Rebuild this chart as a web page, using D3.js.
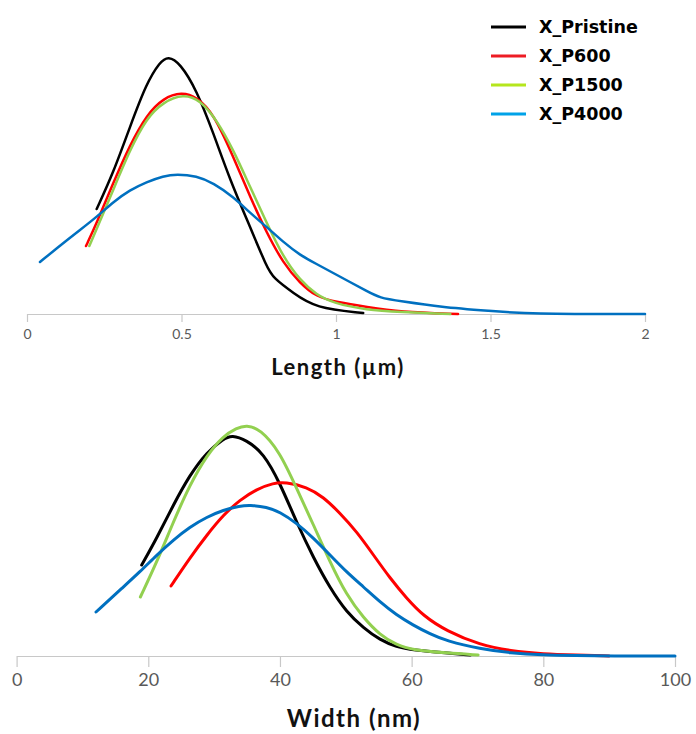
<!DOCTYPE html>
<html><head><meta charset="utf-8">
<script src="https://cdn.jsdelivr.net/npm/d3@7"></script>
<style>body{margin:0;background:#fff}svg{display:block}</style>
</head><body><svg id="c" width="696" height="734"></svg>
<script>
// ---- data ----
const seriesNames = ["X_Pristine","X_P600","X_P1500","X_P4000"];
const lineColors = ["#000000","#ff0000","#92d050","#0070c0"];
const legendColors = ["#000000","#ed1c24","#b5e61d","#00a2e8"];

const lengthTicks = [0,0.5,1,1.5,2];
const widthTicks = [0,20,40,60,80,100];

const lenPristineX = [0.2255,0.279,0.333,0.387,0.430,0.457,0.495,0.549,0.603,0.657,0.722,0.776,0.797,0.862,0.932,1.088];
const lenPristineY = [1.05,1.41,1.87,2.31,2.52,2.58,2.51,2.24,1.81,1.34,0.87,0.47,0.36,0.21,0.06,0.01];
const lenP600X = [0.191,0.2255,0.279,0.333,0.387,0.441,0.501,0.549,0.603,0.668,0.722,0.776,0.829,0.883,0.937,1.002,1.099,1.207,1.395];
const lenP600Y = [0.68,0.91,1.31,1.69,1.99,2.16,2.22,2.17,2.01,1.57,1.17,0.81,0.51,0.31,0.17,0.12,0.07,0.02,0.0];
const lenP1500X = [0.2017,0.279,0.333,0.387,0.441,0.506,0.560,0.614,0.668,0.722,0.776,0.829,0.883,0.937,0.991,1.099,1.207,1.37];
const lenP1500Y = [0.68,1.24,1.64,1.96,2.12,2.20,2.14,1.94,1.64,1.27,0.91,0.57,0.34,0.19,0.11,0.04,0.02,0.0];
const lenP4000X = [0.042,0.1175,0.1715,0.2255,0.279,0.333,0.387,0.441,0.4845,0.549,0.603,0.668,0.722,0.776,0.829,0.883,0.937,0.991,1.045,1.099,1.142,1.207,1.339,1.5,1.62,2.0];
const lenP4000Y = [0.52,0.71,0.84,0.97,1.12,1.24,1.32,1.38,1.40,1.38,1.31,1.17,1.01,0.87,0.72,0.59,0.50,0.41,0.32,0.23,0.16,0.13,0.07,0.03,0.0,0.0];

const widPristineX = [19.0,21.3,23.8,26.3,28.9,31.4,32.7,34.9,37.5,40.0,42.5,45.1,47.6,50.1,52.7,55.2,57.7,60.2,65.3,68.9];
const widPristineY = [0.91,1.18,1.51,1.81,2.04,2.17,2.21,2.16,2.03,1.73,1.34,0.98,0.68,0.44,0.28,0.16,0.09,0.06,0.03,0.01];
const widP600X = [23.45,26.3,28.9,31.4,33.9,36.5,39.0,40.8,44.1,46.6,49.1,51.7,54.2,56.7,59.2,61.8,65.3,70.4,75,80,85,90];
const widP600Y = [0.70,0.98,1.21,1.41,1.56,1.67,1.73,1.74,1.69,1.59,1.43,1.24,1.01,0.78,0.58,0.40,0.25,0.11,0.05,0.02,0.01,0.0];
const widP1500X = [18.8,21.3,23.8,26.3,28.9,31.4,33.4,34.9,37.0,40.0,42.5,45.1,47.6,50.1,52.7,55.2,57.7,60.2,65.3,70.1];
const widP1500Y = [0.59,0.94,1.34,1.71,2.01,2.20,2.28,2.31,2.27,2.04,1.68,1.31,0.94,0.61,0.38,0.21,0.11,0.06,0.03,0.01];
const widP4000X = [12.06,16.2,18.7,21.3,23.8,26.3,28.9,31.4,33.9,35.4,38.0,40.0,42.5,45.1,47.6,50.1,52.7,55.2,57.7,60.2,62.8,65.3,70.4,75,80,85,90,100];
const widP4000Y = [0.44,0.69,0.84,1.01,1.16,1.29,1.39,1.46,1.50,1.51,1.49,1.44,1.33,1.18,1.01,0.84,0.69,0.54,0.41,0.31,0.22,0.15,0.07,0.03,0.01,0.005,0.0,0.0];

const lengthSeries = [[lenPristineX,lenPristineY],[lenP600X,lenP600Y],[lenP1500X,lenP1500Y],[lenP4000X,lenP4000Y]];
const widthSeries = [[widPristineX,widPristineY],[widP600X,widP600Y],[widP1500X,widP1500Y],[widP4000X,widP4000Y]];

// ---- drawing ----
const svg = d3.select("#c");

function panel(opts){
  const x = d3.scaleLinear().domain(opts.xDomain).range(opts.xRange);
  const y = d3.scaleLinear().domain([0,1]).range([opts.axisY, opts.axisY-100]);
  const g = svg.append("g");
  const ax = g.append("g").attr("transform",`translate(0,${opts.axisY})`)
    .call(d3.axisBottom(x).tickValues(opts.ticks).tickFormat(d3.format("~g"))
      .tickSize(opts.tickLen).tickSizeOuter(0).tickPadding(opts.pad));
  ax.select(".domain").attr("stroke","#c8c8c8").attr("stroke-width",1.2);
  ax.selectAll(".tick line").attr("stroke","#c8c8c8").attr("stroke-width",1.2);
  ax.selectAll(".tick text").attr("fill","#595959").attr("font-family","Lato, 'Open Sans', sans-serif")
    .attr("font-size",opts.tickFont);
  const line = d3.line().x(d=>x(d[0])).y(d=>y(Math.max(0,d[1]))).curve(d3.curveBasis);
  opts.series.forEach((s,i)=>{
    const pts = s[0].map((v,j)=>[v,s[1][j]]);
    g.append("path").attr("d",line(pts)).attr("fill","none")
      .attr("stroke",lineColors[i]).attr("stroke-width",opts.lw)
      .attr("stroke-linejoin","round").attr("stroke-linecap","round");
  });
  g.append("text").attr("x",opts.titleX).attr("y",opts.titleY).attr("text-anchor","middle")
    .attr("font-family","Lato, 'Open Sans', sans-serif").attr("font-weight","bold")
    .attr("letter-spacing",opts.ls)
    .attr("font-size",opts.titleFont).attr("fill","#111").text(opts.title);
}

panel({xDomain:[0,2], xRange:[27,645], axisY:314, ticks:lengthTicks, tickLen:8, pad:7, tickFont:14,
  series:lengthSeries, lw:2.5, title:"Length (µm)", titleX:338, titleY:375, titleFont:22, ls:1.5});
panel({xDomain:[0,100], xRange:[16.6,675], axisY:656, ticks:widthTicks, tickLen:11, pad:6, tickFont:18,
  series:widthSeries, lw:3, title:"Width (nm)", titleX:354, titleY:727, titleFont:24, ls:1.5});

// Legend
const lg = svg.append("g");
seriesNames.forEach((n,i)=>{
  const yy = 27 + i*29;
  lg.append("line").attr("x1",491).attr("x2",526).attr("y1",yy).attr("y2",yy)
    .attr("stroke",legendColors[i]).attr("stroke-width",3);
  lg.append("text").attr("x",539).attr("y",yy+6).attr("font-family","'DejaVu Sans', Verdana, sans-serif")
    .attr("font-weight","bold").attr("font-size",17.5).attr("fill","#000").text(n);
});
</script></body></html>
